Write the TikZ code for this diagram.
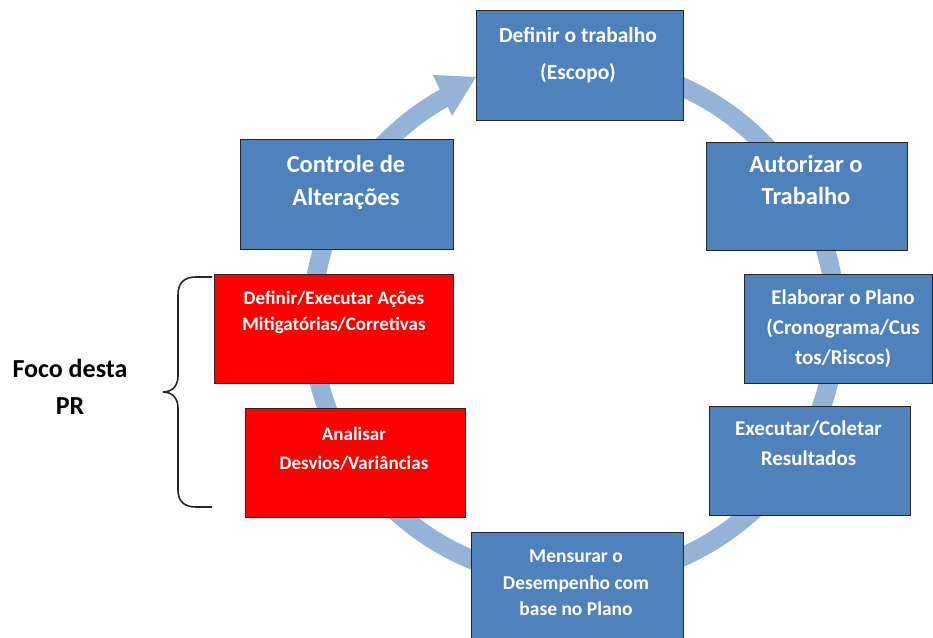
\documentclass[tikz,border=0pt]{standalone}
\usepackage{fontspec}
\setmainfont{Carlito}
\usetikzlibrary{fit}
\definecolor{boxblue}{HTML}{4F81BD}
\definecolor{ringblue}{HTML}{95B3D7}
\definecolor{boxred}{HTML}{FF0000}
\begin{document}
\begin{tikzpicture}[x=1pt,y=-1pt,
  box/.style={draw=black!85, line width=1pt, fill=boxblue, inner sep=0pt},
  redbox/.style={box, fill=boxred},
  ln/.style={text=white, inner sep=0pt, text height=0.64em, text depth=0pt, yshift=-4pt},
  fdef/.style={font=\fontsize{21.5}{26}\selectfont\bfseries},
  fbig/.style={font=\fontsize{24.5}{29}\selectfont\bfseries},
  fmid/.style={font=\fontsize{21}{25}\selectfont\bfseries},
  fred/.style={font=\fontsize{19}{23}\selectfont\bfseries},
  fmen/.style={font=\fontsize{19.5}{23}\selectfont\bfseries},
  ffoco/.style={font=\fontsize{26}{30}\selectfont\bfseries, text=black, inner sep=0pt, text height=0.64em, text depth=0pt, yshift=-4pt},
  ring/.style={draw=ringblue, line width=19pt},
  brace/.style={draw=black!85, line width=1.6pt}
]
\clip (0,0) rectangle (933,637);
\fill[white] (0,0) rectangle (933,637);

% ring
\coordinate (O) at (574,322);
\draw[ring] (O) ++(-80:262 and 258) arc[start angle=-80, end angle=241, x radius=262, y radius=258];
\fill[ringblue] (433,75) -- (476,77) -- (452,116) -- cycle;

% boxes
\node[box, fit={(476,10) (683,120)}] (def) {};
\node[box, fit={(240,139) (453,249)}] (ctrl) {};
\node[box, fit={(706,142) (907,250)}] (aut) {};
\node[box, fit={(744,274) (932,383)}] (elab) {};
\node[box, fit={(709,406) (910,515)}] (exe) {};
\node[redbox, fit={(214,274) (453,383)}] (red1) {};
\node[redbox, fit={(245,408) (465,517)}] (red2) {};
\node[box, fit={(471,532) (683,660)}] (mens) {};

% texts
\node[ln, fdef] (def1) at (578,35) {Definir o trabalho};
\node[ln, fdef] (def2) at (578,72) {(Escopo)};
\node[ln, fbig] (ctrl1) at (346,165) {Controle de};
\node[ln, fbig] (ctrl2) at (346,198) {Alterações};
\node[ln, fbig] (aut1) at (806,165) {Autorizar o};
\node[ln, fbig] (aut2) at (806,197) {Trabalho};
\node[ln, fmid] (elab1) at (843,297) {Elaborar o Plano};
\node[ln, fmid] (elab2) at (843,327) {(Cronograma/Cus};
\node[ln, fmid] (elab3) at (843,357) {tos/Riscos)};
\node[ln, fmid] (exe1) at (808.5,428) {Executar/Coletar};
\node[ln, fmid] (exe2) at (808.5,458) {Resultados};
\node[ln, fred] (red1a) at (334,297) {Definir/Executar Ações};
\node[ln, fred] (red1b) at (334,323) {Mitigatórias/Corretivas};
\node[ln, fred] (red2a) at (354,433) {Analisar};
\node[ln, fred] (red2b) at (354,462) {Desvios/Variâncias};
\node[ln, fmen] (mens1) at (576,555) {Mensurar o};
\node[ln, fmen] (mens2) at (576,582) {Desempenho com};
\node[ln, fmen] (mens3) at (576,608) {base no Plano};

% brace and label
\draw[brace] (212,277) -- (196,277) .. controls (184,277) and (178,283) .. (178,295) -- (178,376)
  .. controls (178,386) and (172,392) .. (163,392) .. controls (172,392) and (178,398) .. (178,408)
  -- (178,490) .. controls (178,501) and (184,507) .. (196,507) -- (212,507);
\node[ffoco] (foco1) at (70,370) {Foco desta};
\node[ffoco] (foco2) at (70,407) {PR};
\end{tikzpicture}
\end{document}
